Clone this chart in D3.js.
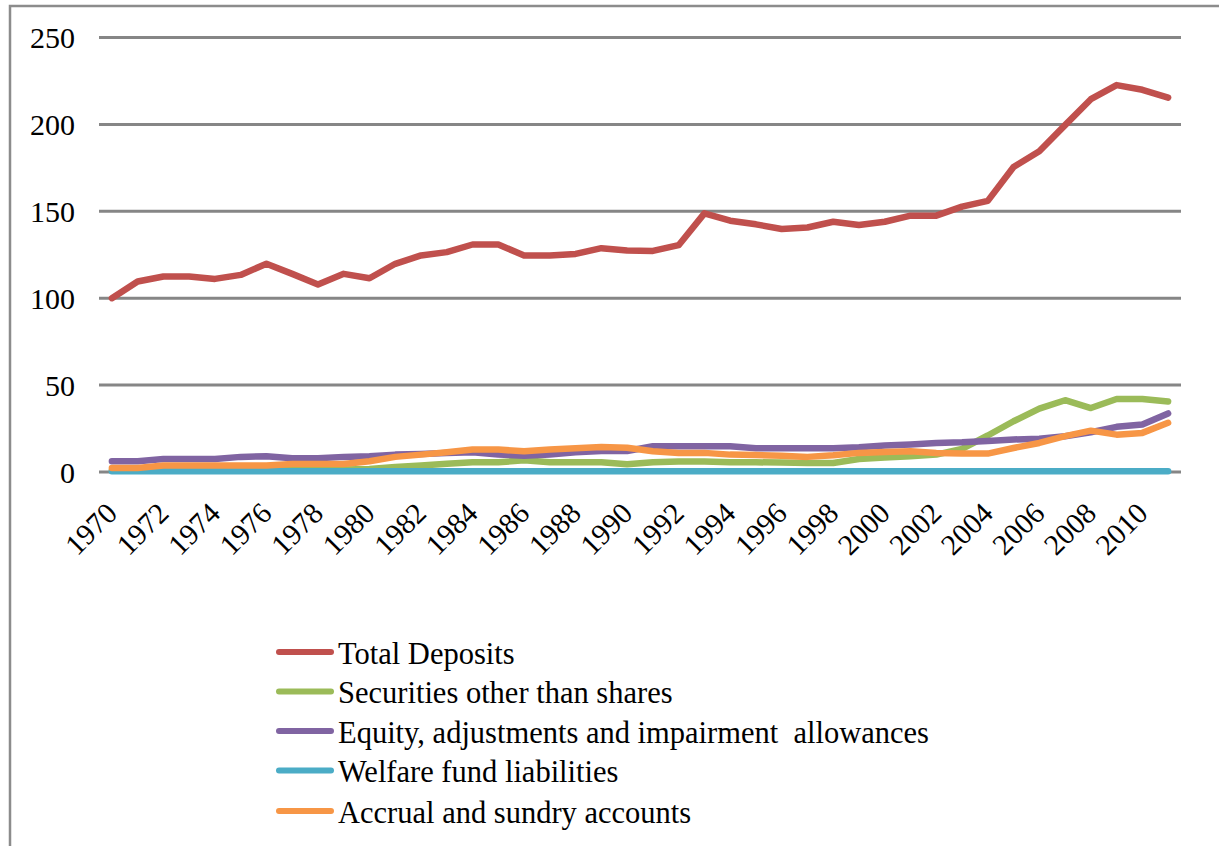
<!DOCTYPE html>
<html>
<head>
<meta charset="utf-8">
<script src="https://cdn.jsdelivr.net/npm/d3@7"></script>
<style>
  html, body { margin: 0; padding: 0; background: #fff; }
  svg { display: block; }
  text { font-family: "Liberation Serif", "Times New Roman", serif; fill: #000; }
</style>
</head>
<body>
<svg id="chart" width="1219" height="846"></svg>
<script>
const years = d3.range(1970, 2012).map(String);
const tickLabels = years.filter((d, i) => i % 2 === 0);
const yTicks = [0, 50, 100, 150, 200, 250];

const seriesNames = [
  "Total Deposits",
  "Securities other than shares",
  "Equity, adjustments and impairment  allowances",
  "Welfare fund liabilities",
  "Accrual and sundry accounts"
];
const seriesColors = ["#C0504D", "#9BBB59", "#8064A2", "#4BACC6", "#F79646"];

const totalDeposits = [
  100, 109.6, 112.5, 112.5, 111.1, 113.4, 119.8, 114, 107.9, 114,
  111.5, 119.8, 124.6, 126.5, 130.9, 130.9, 124.6, 124.6, 125.5, 128.8,
  127.5, 127.2, 130.5, 148.8, 144.6, 142.5, 139.8, 140.7, 144, 142.1,
  144, 147.5, 147.5, 152.7, 156, 175.5, 184.6, 199.6, 214.5, 222.6,
  219.9, 215.4
];
const securities = [
  1, 1, 1, 1, 1, 1, 1, 1.2, 1.3, 1.5,
  1.7, 2.9, 3.7, 4.8, 5.6, 5.6, 6.7, 5.6, 5.6, 5.6,
  4.4, 5.6, 6, 6, 5.6, 5.6, 5.4, 5.2, 5.2, 7.5,
  8.3, 9, 10, 13.3, 21, 29.2, 36.5, 41.3, 36.8, 42,
  42, 40.6
];
const equity = [
  6.2, 6.2, 7.5, 7.5, 7.5, 8.7, 9, 7.9, 7.9, 8.7,
  9, 10, 10.4, 11, 11.3, 10, 9.4, 10, 11.3, 12.1,
  12.1, 14.8, 14.8, 14.8, 14.8, 13.7, 13.7, 13.7, 13.7, 14.2,
  15.2, 15.8, 16.7, 17.1, 17.9, 18.7, 19.2, 20.6, 22.9, 26,
  27.3, 33.7
];
const welfare = [
  0.5, 0.5, 0.5, 0.5, 0.5, 0.5, 0.5, 0.5, 0.5, 0.5,
  0.5, 0.5, 0.5, 0.5, 0.5, 0.5, 0.5, 0.5, 0.5, 0.5,
  0.5, 0.5, 0.5, 0.5, 0.5, 0.5, 0.5, 0.5, 0.5, 0.5,
  0.5, 0.5, 0.5, 0.5, 0.5, 0.5, 0.5, 0.5, 0.5, 0.5,
  0.5, 0.5
];
const accrual = [
  2.3, 2.3, 3.7, 3.7, 3.7, 3.7, 3.7, 4.6, 4.6, 4.6,
  6.2, 8.7, 10, 11.3, 12.9, 12.9, 11.9, 12.9, 13.7, 14.4,
  14, 11.9, 11, 11, 10, 9.8, 9.4, 8.7, 9.6, 11,
  11.5, 11.9, 11, 10.6, 10.6, 13.8, 16.7, 20.6, 23.8, 21.5,
  22.5, 28.3
];
const seriesValues = [totalDeposits, securities, equity, welfare, accrual];

const svg = d3.select("#chart");

// outer chart border
svg.append("rect")
  .attr("x", 10).attr("y", 6)
  .attr("width", 1240).attr("height", 880)
  .attr("fill", "none")
  .attr("stroke", "#8C8C8C")
  .attr("stroke-width", 2.5);

const plotLeft = 99, plotRight = 1181, plotTop = 37.5, plotBottom = 472;

const x = d3.scaleBand().domain(years).range([plotLeft, plotRight]);
const y = d3.scaleLinear().domain([0, 250]).range([plotBottom, plotTop]);
const cx = d => x(d) + x.bandwidth() / 2;

// gridlines
svg.append("g")
  .selectAll("line")
  .data(yTicks)
  .join("line")
  .attr("x1", plotLeft).attr("x2", plotRight)
  .attr("y1", d => y(d)).attr("y2", d => y(d))
  .attr("stroke", "#868686")
  .attr("stroke-width", 3);

// y labels
svg.append("g")
  .selectAll("text")
  .data(yTicks)
  .join("text")
  .attr("x", 75)
  .attr("y", d => y(d))
  .attr("dy", "0.35em")
  .attr("text-anchor", "end")
  .attr("font-size", 30)
  .text(d => d);

// x labels
svg.append("g")
  .selectAll("text")
  .data(tickLabels)
  .join("text")
  .attr("text-anchor", "end")
  .attr("font-size", 29.5)
  .attr("transform", d => `translate(${cx(d) + 7},${515}) rotate(-45)`)
  .text(d => d);

// lines
const line = d3.line()
  .x((d, i) => cx(years[i]))
  .y(d => y(d));

svg.append("g")
  .selectAll("path")
  .data(seriesValues)
  .join("path")
  .attr("d", d => line(d))
  .attr("fill", "none")
  .attr("stroke", (d, i) => seriesColors[i])
  .attr("stroke-width", 6.5)
  .attr("stroke-linejoin", "round")
  .attr("stroke-linecap", "round");

// legend
const legendY = [652, 691.5, 731, 770.5, 811];
const lg = svg.append("g")
  .selectAll("g")
  .data(seriesNames)
  .join("g")
  .attr("transform", (d, i) => `translate(0,${legendY[i]})`);
lg.append("line")
  .attr("x1", 279).attr("x2", 331)
  .attr("y1", 0).attr("y2", 0)
  .attr("stroke", (d, i) => seriesColors[i])
  .attr("stroke-width", 6)
  .attr("stroke-linecap", "round");
lg.append("text")
  .attr("x", 338)
  .attr("y", 11.5)
  .attr("font-size", 30.5)
  .style("white-space", "pre")
  .attr("xml:space", "preserve")
  .text(d => d);
</script>
</body>
</html>
